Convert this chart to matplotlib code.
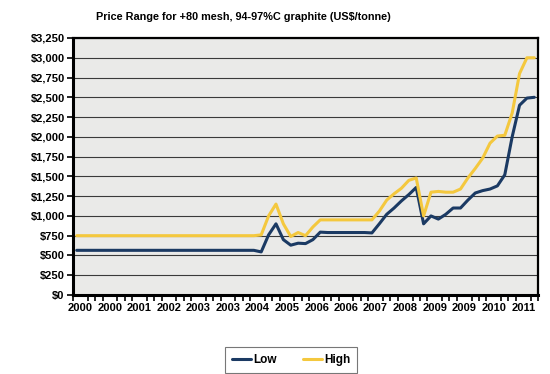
import numpy as np
import matplotlib.pyplot as plt
from matplotlib.ticker import FuncFormatter, MultipleLocator

plt.rcParams["font.family"] = ["Liberation Sans", "DejaVu Sans"]

# --- data (one value per category) ---
year_labels = ["2000", "2000", "2001", "2002", "2003", "2003", "2004", "2005",
               "2006", "2006", "2007", "2008", "2009", "2009", "2010", "2011"]

low = ([565] * 25 +
       [545, 760, 900, 700, 630, 655, 650, 700, 795,
        790, 790, 790, 790, 790, 790, 785,
        900, 1020, 1100, 1190, 1270, 1360, 900, 1000, 960, 1020, 1100, 1100,
        1200, 1290, 1320, 1340, 1380, 1520, 2000, 2400, 2490, 2500])

high = ([750] * 25 +
        [760, 1000, 1150, 900, 740, 790, 750, 860, 950,
         950, 950, 950, 950, 950, 950, 950,
         1060, 1200, 1280, 1350, 1450, 1480, 1000, 1300, 1310, 1300, 1300, 1340,
         1480, 1600, 1730, 1920, 2010, 2020, 2300, 2800, 3000, 3000])

n = len(low)
x = np.arange(n)

fig = plt.figure(figsize=(5.5, 3.74), dpi=100)
ax = fig.add_axes([73 / 550, 79 / 374, 465 / 550, 257 / 374])
ax.set_facecolor("#eaeae8")

ax.plot(x, low, color="#1b3a63", lw=2.2, label="Low", zorder=3,
        solid_joinstyle="round", solid_capstyle="round")
ax.plot(x, high, color="#f4c83e", lw=2.2, label="High", zorder=3,
        solid_joinstyle="round", solid_capstyle="round")

# y axis
ax.set_ylim(0, 3250)
ax.yaxis.set_major_locator(MultipleLocator(250))
ax.yaxis.set_major_formatter(FuncFormatter(lambda v, p: f"${v:,.0f}"))
ax.grid(axis="y", color="#3a3a3a", lw=0.8)
ax.set_axisbelow(True)

# category x axis: ticks between categories, label every 4th
ax.set_xlim(-0.5, n - 0.5)
ax.set_xticks(np.arange(-0.5, n, 1.0), minor=True)
ax.set_xticks(np.arange(0, len(year_labels) * 4, 4) + 0.5)
ax.set_xticklabels(year_labels)
ax.tick_params(axis="x", which="major", length=0, pad=6)
ax.tick_params(axis="x", which="minor", length=4, width=1.2, color="black")
ax.tick_params(axis="y", length=4, width=1.2, pad=2)

for lbl in ax.get_xticklabels() + ax.get_yticklabels():
    lbl.set_fontsize(8)
    lbl.set_fontweight("bold")

for side in ["left", "bottom", "right", "top"]:
    ax.spines[side].set_color("black")
    ax.spines[side].set_linewidth(1.6)
ax.spines["left"].set_linewidth(2.2)
ax.spines["bottom"].set_linewidth(2.2)

fig.text(243 / 550, 1 - 17 / 374,
         "Price Range for +80 mesh, 94-97%C graphite (US$/tonne)",
         ha="center", va="center", fontsize=7.8, fontweight="bold")

leg = fig.legend(loc="center", bbox_to_anchor=(291 / 550, 1 - 360 / 374),
                 ncol=2, fancybox=False, edgecolor="#555555",
                 prop={"size": 8.5, "weight": "bold"},
                 handlelength=1.6, handletextpad=0.2, columnspacing=2.2,
                 borderpad=0.6)
leg.get_frame().set_linewidth(0.8)

fig.savefig("out.png", dpi=100, facecolor="white")
